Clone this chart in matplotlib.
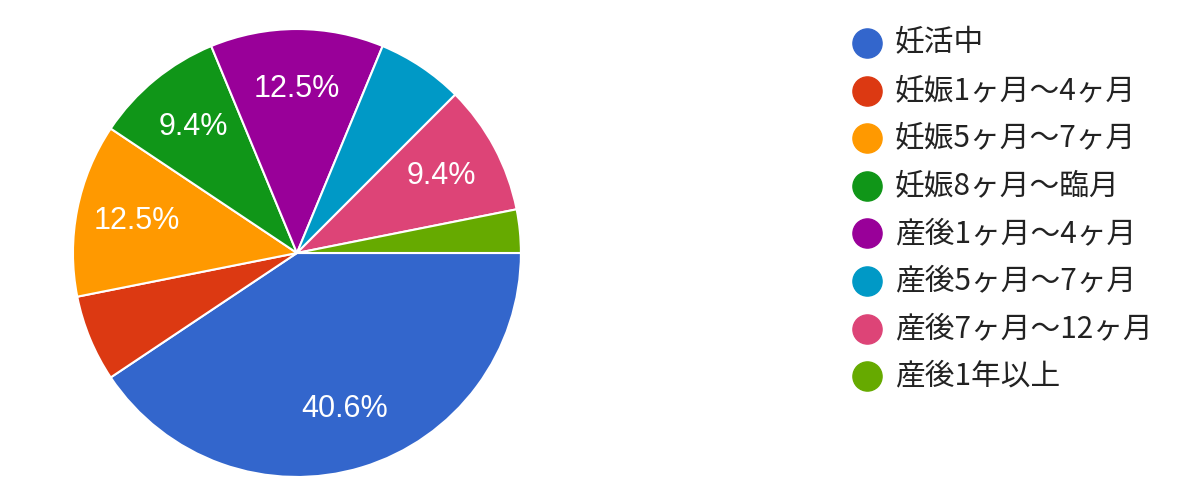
import matplotlib
matplotlib.use('Agg')
import matplotlib.pyplot as plt

# 回答数 (32人中)
labels = ['妊活中', '妊娠1ヶ月〜4ヶ月', '妊娠5ヶ月〜7ヶ月', '妊娠8ヶ月〜臨月',
          '産後1ヶ月〜4ヶ月', '産後5ヶ月〜7ヶ月', '産後7ヶ月〜12ヶ月', '産後1年以上']
counts = [13, 2, 4, 3, 4, 2, 3, 1]
colors = ['#3366cc', '#dc3912', '#ff9900', '#109618',
          '#990099', '#0099c6', '#dd4477', '#66aa00']

plt.rcParams['font.family'] = ['Liberation Sans', 'Noto Sans CJK JP', 'DejaVu Sans']

fig = plt.figure(figsize=(12, 5), dpi=100)
ax = fig.add_axes([0.0608, 0.046, 0.3733, 0.896])


def pct_label(p):
    # Googleフォーム風: 小さいスライスには表示しない
    return '{:.1f}%'.format(p) if p > 7 else ''


wedges, texts, autotexts = ax.pie(
    counts, colors=colors, startangle=0, counterclock=False,
    autopct=pct_label, pctdistance=0.73,
    wedgeprops=dict(edgecolor='white', linewidth=1.5),
    textprops=dict(color='white', fontsize=22))
ax.set_xlim(-1, 1)
ax.set_ylim(-1, 1)
ax.set_aspect('equal')

# 凡例
x0 = 867 / 1200
for i, (lab, col) in enumerate(zip(labels, colors)):
    y = 1 - (43 + i * 47.6) / 500
    fig.lines.append(plt.Line2D([x0], [y], transform=fig.transFigure,
                                marker='o', markersize=21, color=col,
                                linestyle='none'))
    fig.text(x0 + 28 / 1200, y, lab, fontsize=21.4, va='center', ha='left',
             color='#222222', family=['Noto Sans CJK JP', 'DejaVu Sans'])

fig.savefig('out.png')
